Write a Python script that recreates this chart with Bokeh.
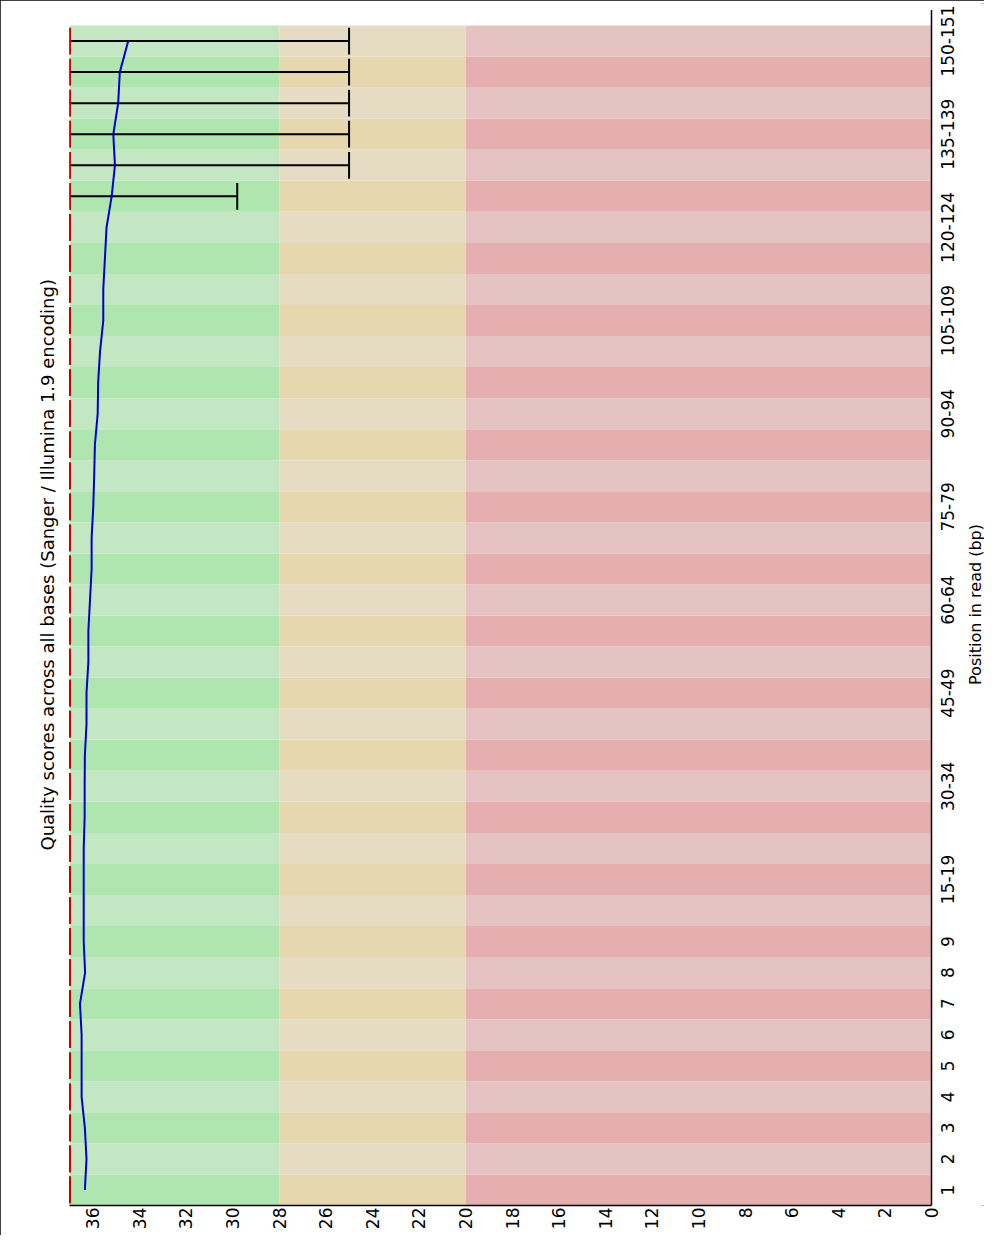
import math
from bokeh.plotting import figure
from bokeh.models import Range1d, FixedTicker, Title, ColumnDataSource
from bokeh.core.properties import value
from bokeh.embed import file_html
from bokeh.resources import INLINE

# ---------------- data ----------------
groups = ["1", "2", "3", "4", "5", "6", "7", "8", "9",
          "10-14", "15-19", "20-24", "25-29", "30-34", "35-39", "40-44",
          "45-49", "50-54", "55-59", "60-64", "65-69", "70-74", "75-79",
          "80-84", "85-89", "90-94", "95-99", "100-104", "105-109",
          "110-114", "115-119", "120-124", "125-129", "130-134", "135-139",
          "140-144", "145-149", "150-151"]

shown_labels = ["1", "2", "3", "4", "5", "6", "7", "8", "9", "15-19", "30-34",
                "45-49", "60-64", "75-79", "90-94", "105-109", "120-124",
                "135-139", "150-151"]

mean_q = [36.34, 36.27, 36.34, 36.48, 36.48, 36.48, 36.55, 36.33, 36.39, 36.39,
          36.39, 36.39, 36.35, 36.35, 36.34, 36.27, 36.27, 36.19, 36.19, 36.12,
          36.05, 36.05, 35.98, 35.94, 35.91, 35.79, 35.77, 35.69, 35.55, 35.55,
          35.48, 35.41, 35.19, 35.05, 35.12, 34.91, 34.84, 34.48]

median_q = [37, 37, 37, 37, 37, 37, 37, 37, 37, 37, 37, 37, 37, 37, 37, 37, 37, 37, 37,
            37, 37, 37, 37, 37, 37, 37, 37, 37, 37, 37, 37, 37, 37, 37, 37, 37, 37, 37]

lower10 = [37, 37, 37, 37, 37, 37, 37, 37, 37, 37, 37, 37, 37, 37, 37, 37, 37, 37, 37,
           37, 37, 37, 37, 37, 37, 37, 37, 37, 37, 37, 37, 37, 29.8, 25, 25, 25, 25, 25]

upper90 = [37, 37, 37, 37, 37, 37, 37, 37, 37, 37, 37, 37, 37, 37, 37, 37, 37, 37, 37,
           37, 37, 37, 37, 37, 37, 37, 37, 37, 37, 37, 37, 37, 37, 37, 37, 37, 37, 37]

quality_ticks = [0, 2, 4, 6, 8, 10, 12, 14, 16, 18, 20, 22, 24, 26, 28, 30, 32, 34, 36]
q_max = 37
good_min = 28
bad_min = 20
q_min = 0

title_text = "Quality scores across all bases (Sanger / Illumina 1.9 encoding)"
x_title = "Position in read (bp)"

# ---------------- layout / styles ----------------
GOOD, GOOD_DARK = "#C3E6C3", "#AFE6AF"
BAD, BAD_DARK = "#E6DCC3", "#E6D7AF"
UGLY, UGLY_DARK = "#E6C3C3", "#E6AFAF"
FONT = "DejaVu Sans"

FIG_W, FIG_H = 984, 1235
BORDER_L, BORDER_T, BORDER_B = 69, 3, 30
LABEL_SPACE = 53          # px to the right of the quality=0 line for position labels
plot_px = FIG_W - BORDER_L - LABEL_SPACE
x_end = q_min - (q_max - q_min) * LABEL_SPACE / plot_px

n = len(groups)
idx = list(range(n))
ybot = [i for i in idx]
ytop = [i + 1 for i in idx]
centers = [i + 0.5 for i in idx]
cap_lo = [c - 0.43 for c in centers]
cap_hi = [c + 0.43 for c in centers]
is_dark = [i % 2 == 0 for i in idx]
line_top = n + 0.5      # axis line overshoot above the last group
y_end = n + 0.71        # a little room above for the top label

title = Title(text=title_text, align="left", offset=355, standoff=23, text_font=FONT,
              text_font_size="18px", text_font_style="normal", text_color="black")

p = figure(width=FIG_W, height=FIG_H, output_backend="svg", toolbar_location=None,
           x_range=Range1d(q_max, x_end), y_range=Range1d(0, y_end),
           x_axis_location="below", y_axis_location=None,
           title=title, title_location="left",
           min_border_left=BORDER_L, min_border_right=0, min_border_top=BORDER_T,
           min_border_bottom=BORDER_B, outline_line_color=None,
           background_fill_color="white", border_fill_color="white")
p.grid.visible = False
p.styles = {"outline": "3px solid black", "outline-offset": "-3px"}

# background bands
p.quad(left=[q_max] * n, right=[good_min] * n, bottom=ybot, top=ytop,
       fill_color=[GOOD_DARK if d else GOOD for d in is_dark], line_color=None)
p.quad(left=[good_min] * n, right=[bad_min] * n, bottom=ybot, top=ytop,
       fill_color=[BAD_DARK if d else BAD for d in is_dark], line_color=None)
p.quad(left=[bad_min] * n, right=[q_min] * n, bottom=ybot, top=ytop,
       fill_color=[UGLY_DARK if d else UGLY for d in is_dark], line_color=None)

# whiskers
p.segment(x0=lower10, y0=centers, x1=upper90, y1=centers, line_color="black", line_width=2)
p.segment(x0=lower10, y0=cap_lo, x1=lower10, y1=cap_hi, line_color="black", line_width=2)
p.segment(x0=upper90, y0=cap_lo, x1=upper90, y1=cap_hi, line_color="black", line_width=2)

# median
p.segment(x0=median_q, y0=cap_lo, x1=median_q, y1=cap_hi, line_color="#C80000", line_width=3)

# mean
p.line(mean_q, centers, line_color="#0000C8", line_width=2)

# position axis line (quality = 0)
p.segment(x0=[q_min], y0=[0], x1=[q_min], y1=[line_top], line_color="black", line_width=1.5)

# quality axis (bottom)
xa = p.xaxis[0]
xa.ticker = FixedTicker(ticks=quality_ticks)
xa.bounds = (q_min, q_max)
xa.major_tick_line_color = None
xa.minor_tick_line_color = None
xa.major_tick_out = 0
xa.major_label_orientation = math.pi / 2
xa.major_label_text_font = FONT
xa.major_label_text_font_size = "17px"
xa.major_label_text_color = "black"
xa.major_label_standoff = 2
xa.axis_line_color = "black"
xa.axis_line_width = 1.5

# position tick labels and axis title (rotated, to the right of the 0 line)
label_pos = [centers[groups.index(l)] for l in shown_labels]
lab_src = ColumnDataSource(dict(x=[q_min] * len(shown_labels), y=label_pos, text=shown_labels))
p.text(x="x", y="y", text="text", source=lab_src, angle=math.pi / 2,
       text_align="center", text_baseline="top", x_offset=9,
       text_font=value(FONT), text_font_size="17px", text_color="black")
p.text(x=[q_min], y=[y_end / 2], text=[x_title], angle=math.pi / 2,
       text_align="center", text_baseline="top", x_offset=34,
       text_font=value(FONT), text_font_size="16px", text_color="black")

open("out.html", "w").write(file_html(p, INLINE))
